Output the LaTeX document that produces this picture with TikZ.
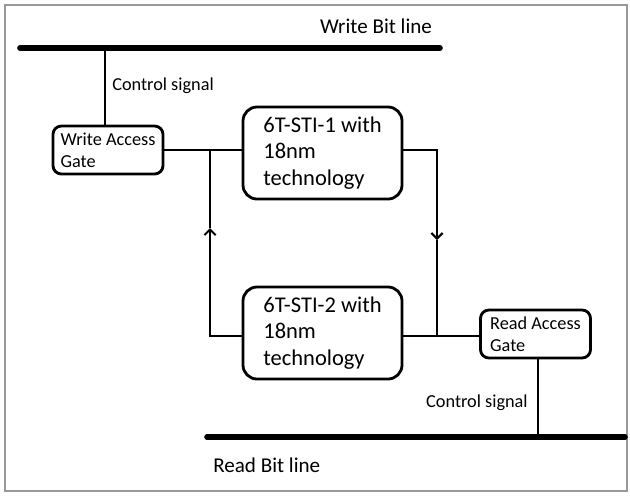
\documentclass[tikz,border=0pt]{standalone}
\usepackage{fontspec}
\setmainfont{Carlito}
\usetikzlibrary{arrows.meta}
\tikzset{
  wire/.style={line width=2pt},
  busline/.style={line width=4pt, line cap=round},
  gatebox/.style={draw, line width=2pt, rounded corners=6pt, align=left,
    minimum width=2.75cm, minimum height=1.2cm, inner sep=1pt,
    font=\fontsize{13}{15.6}\selectfont},
  cellbox/.style={draw, line width=2pt, rounded corners=10pt, align=left,
    minimum width=3.975cm, minimum height=2.3cm, inner sep=2pt,
    font=\fontsize{16}{19}\selectfont},
  lbl/.style={font=\fontsize{15}{17}\selectfont, inner sep=0pt},
  sig/.style={font=\fontsize{13}{15}\selectfont, inner sep=0pt},
  barb/.style={-{Straight Barb[length=4pt,width=8pt,line width=1.5pt]}}
}
\begin{document}
\begin{tikzpicture}[x=0.025cm,y=-0.025cm]
    \useasboundingbox (0,0) rectangle (630,495);
    \draw[gray!80, line width=0.8pt] (5,5) rectangle (627,491);
    % bit lines
    \coordinate (wbl1) at (20,48);
    \coordinate (wbl2) at (440,48);
    \coordinate (rbl1) at (207,437);
    \coordinate (rbl2) at (625,437);
    \draw[busline] (wbl1) -- (wbl2);
    \draw[busline] (rbl1) -- (rbl2);
    \node[lbl] (wbltxt) at (376,26) {Write Bit line};
    \node[lbl, anchor=west] (rbltxt) at (213,465) {Read Bit line};
    % gates and cells
    \node[gatebox] (wag) at (108,150) {Write Access\\Gate};
    \node[gatebox] (rag) at (535.5,334) {Read Access\\Gate};
    \node[cellbox] (sti1) at (322.5,153) {6T-STI-1 with\\18nm\\technology};
    \node[cellbox] (sti2) at (322.5,333) {6T-STI-2 with\\18nm\\technology};
    % control signals
    \coordinate (ctlw) at (105,48);
    \draw[wire] (ctlw) -- (ctlw |- wag.north);
    \node[sig, anchor=west] (ctlwtxt) at (112,86) {Control signal};
    \draw[wire] (rag.south -| 538,0) -- (rbl1 -| 538,0);
    \node[sig, anchor=east] (ctlrtxt) at (528,403) {Control signal};
    % loop
    \coordinate (jtl) at (210,150);
    \coordinate (jtr) at (437,150);
    \coordinate (jbl) at (210,336);
    \coordinate (jbr) at (437,336);
    \coordinate (aup) at (210,228);
    \coordinate (adn) at (437,240);
    \draw[wire] (wag.east |- jtl) -- (jtl -| sti1.west);
    \draw[wire, barb] (sti2.west |- jbl) -- (jbl) -- (aup);
    \draw[wire] (aup) -- (jtl);
    \draw[wire, barb] (sti1.east |- jtr) -- (jtr) -- (adn);
    \draw[wire] (adn) -- (jbr);
    \draw[wire] (sti2.east |- jbr) -- (jbr -| rag.west);
\end{tikzpicture}
\end{document}
